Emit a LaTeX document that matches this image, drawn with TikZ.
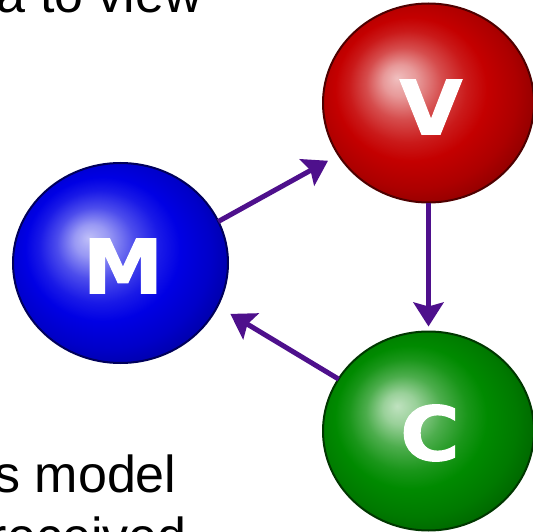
\documentclass[tikz,border=0pt]{standalone}
\usepackage{fontspec}
\setmainfont{Liberation Sans}
\newfontfamily\letterfont[FakeBold=1.5]{DejaVu Sans Bold}
\usetikzlibrary{shapes.geometric,arrows.meta}
\definecolor{vred}{RGB}{196,0,0}
\definecolor{mblue}{RGB}{0,0,228}
\definecolor{cgreen}{RGB}{0,138,0}
\definecolor{arrowpurple}{RGB}{78,16,140}
\pgfdeclareradialshading{redball}{\pgfpoint{-7.5bp}{6.3bp}}{%
  color(0bp)=(vred!25!white); color(4bp)=(vred!40!white); color(9bp)=(vred!70!white);
  color(14bp)=(vred!90!white); color(18bp)=(vred); color(24bp)=(vred!88!black);
  color(29bp)=(vred!72!black); color(34bp)=(vred!55!black); color(40bp)=(vred!45!black)}
\pgfdeclareradialshading{blueball}{\pgfpoint{-7.5bp}{6.3bp}}{%
  color(0bp)=(mblue!25!white); color(4bp)=(mblue!40!white); color(9bp)=(mblue!70!white);
  color(14bp)=(mblue!90!white); color(18bp)=(mblue); color(24bp)=(mblue!88!black);
  color(29bp)=(mblue!72!black); color(34bp)=(mblue!55!black); color(40bp)=(mblue!45!black)}
\pgfdeclareradialshading{greenball}{\pgfpoint{-7.5bp}{6.3bp}}{%
  color(0bp)=(cgreen!25!white); color(4bp)=(cgreen!40!white); color(9bp)=(cgreen!70!white);
  color(14bp)=(cgreen!90!white); color(18bp)=(cgreen); color(24bp)=(cgreen!88!black);
  color(29bp)=(cgreen!72!black); color(34bp)=(cgreen!55!black); color(40bp)=(cgreen!45!black)}
\tikzset{
  sphere/.style={ellipse, minimum width=211pt, minimum height=199pt, inner sep=0pt, outer sep=0pt, line width=2pt},
  letter/.style={text=white, font=\letterfont\fontsize{75}{75}\selectfont},
  mvcarrow/.style={draw=arrowpurple, line width=5pt, -{Stealth[length=24pt,width=30pt,inset=4pt]}},
  slidetext/.style={font=\fontsize{52}{62}\selectfont, text=black, inner sep=0pt, outer sep=0pt}
}
\begin{document}
\begin{tikzpicture}[x=1pt,y=-1pt]
\useasboundingbox (0,0) rectangle (533,532);
\clip (0,0) rectangle (533,532);
\node[sphere, shading=blueball, draw=mblue!40!black, minimum width=215pt, minimum height=200pt] (M) at (120.5,263) {};
\node[sphere, shading=redball, draw=vred!40!black] (V) at (428.5,103) {};
\node[sphere, shading=greenball, draw=cgreen!40!black] (C) at (428.5,431) {};
\node[letter] (Ml) at (123,266) {\scalebox{1.08}[1]{M}};
\node[letter] (Vl) at (431,107) {\scalebox{1.08}[1]{V}};
\node[letter] (Cl) at (430,433) {\scalebox{1.08}[1]{C}};
\draw[mvcarrow, shorten >=12pt] (M.23) -- (V.210);
\draw[mvcarrow, shorten >=5pt] (V.south) -- (C.north);
\draw[mvcarrow, shorten >=15pt] (C.150) -- (M.-24);
\node[slidetext, anchor=base east] (t1) at (202,12.7) {a to view};
\node[slidetext, anchor=base east] (t2) at (176.5,492) {s model};
\node[slidetext, anchor=base east] (t3) at (186.5,554) {received};
\end{tikzpicture}
\end{document}
